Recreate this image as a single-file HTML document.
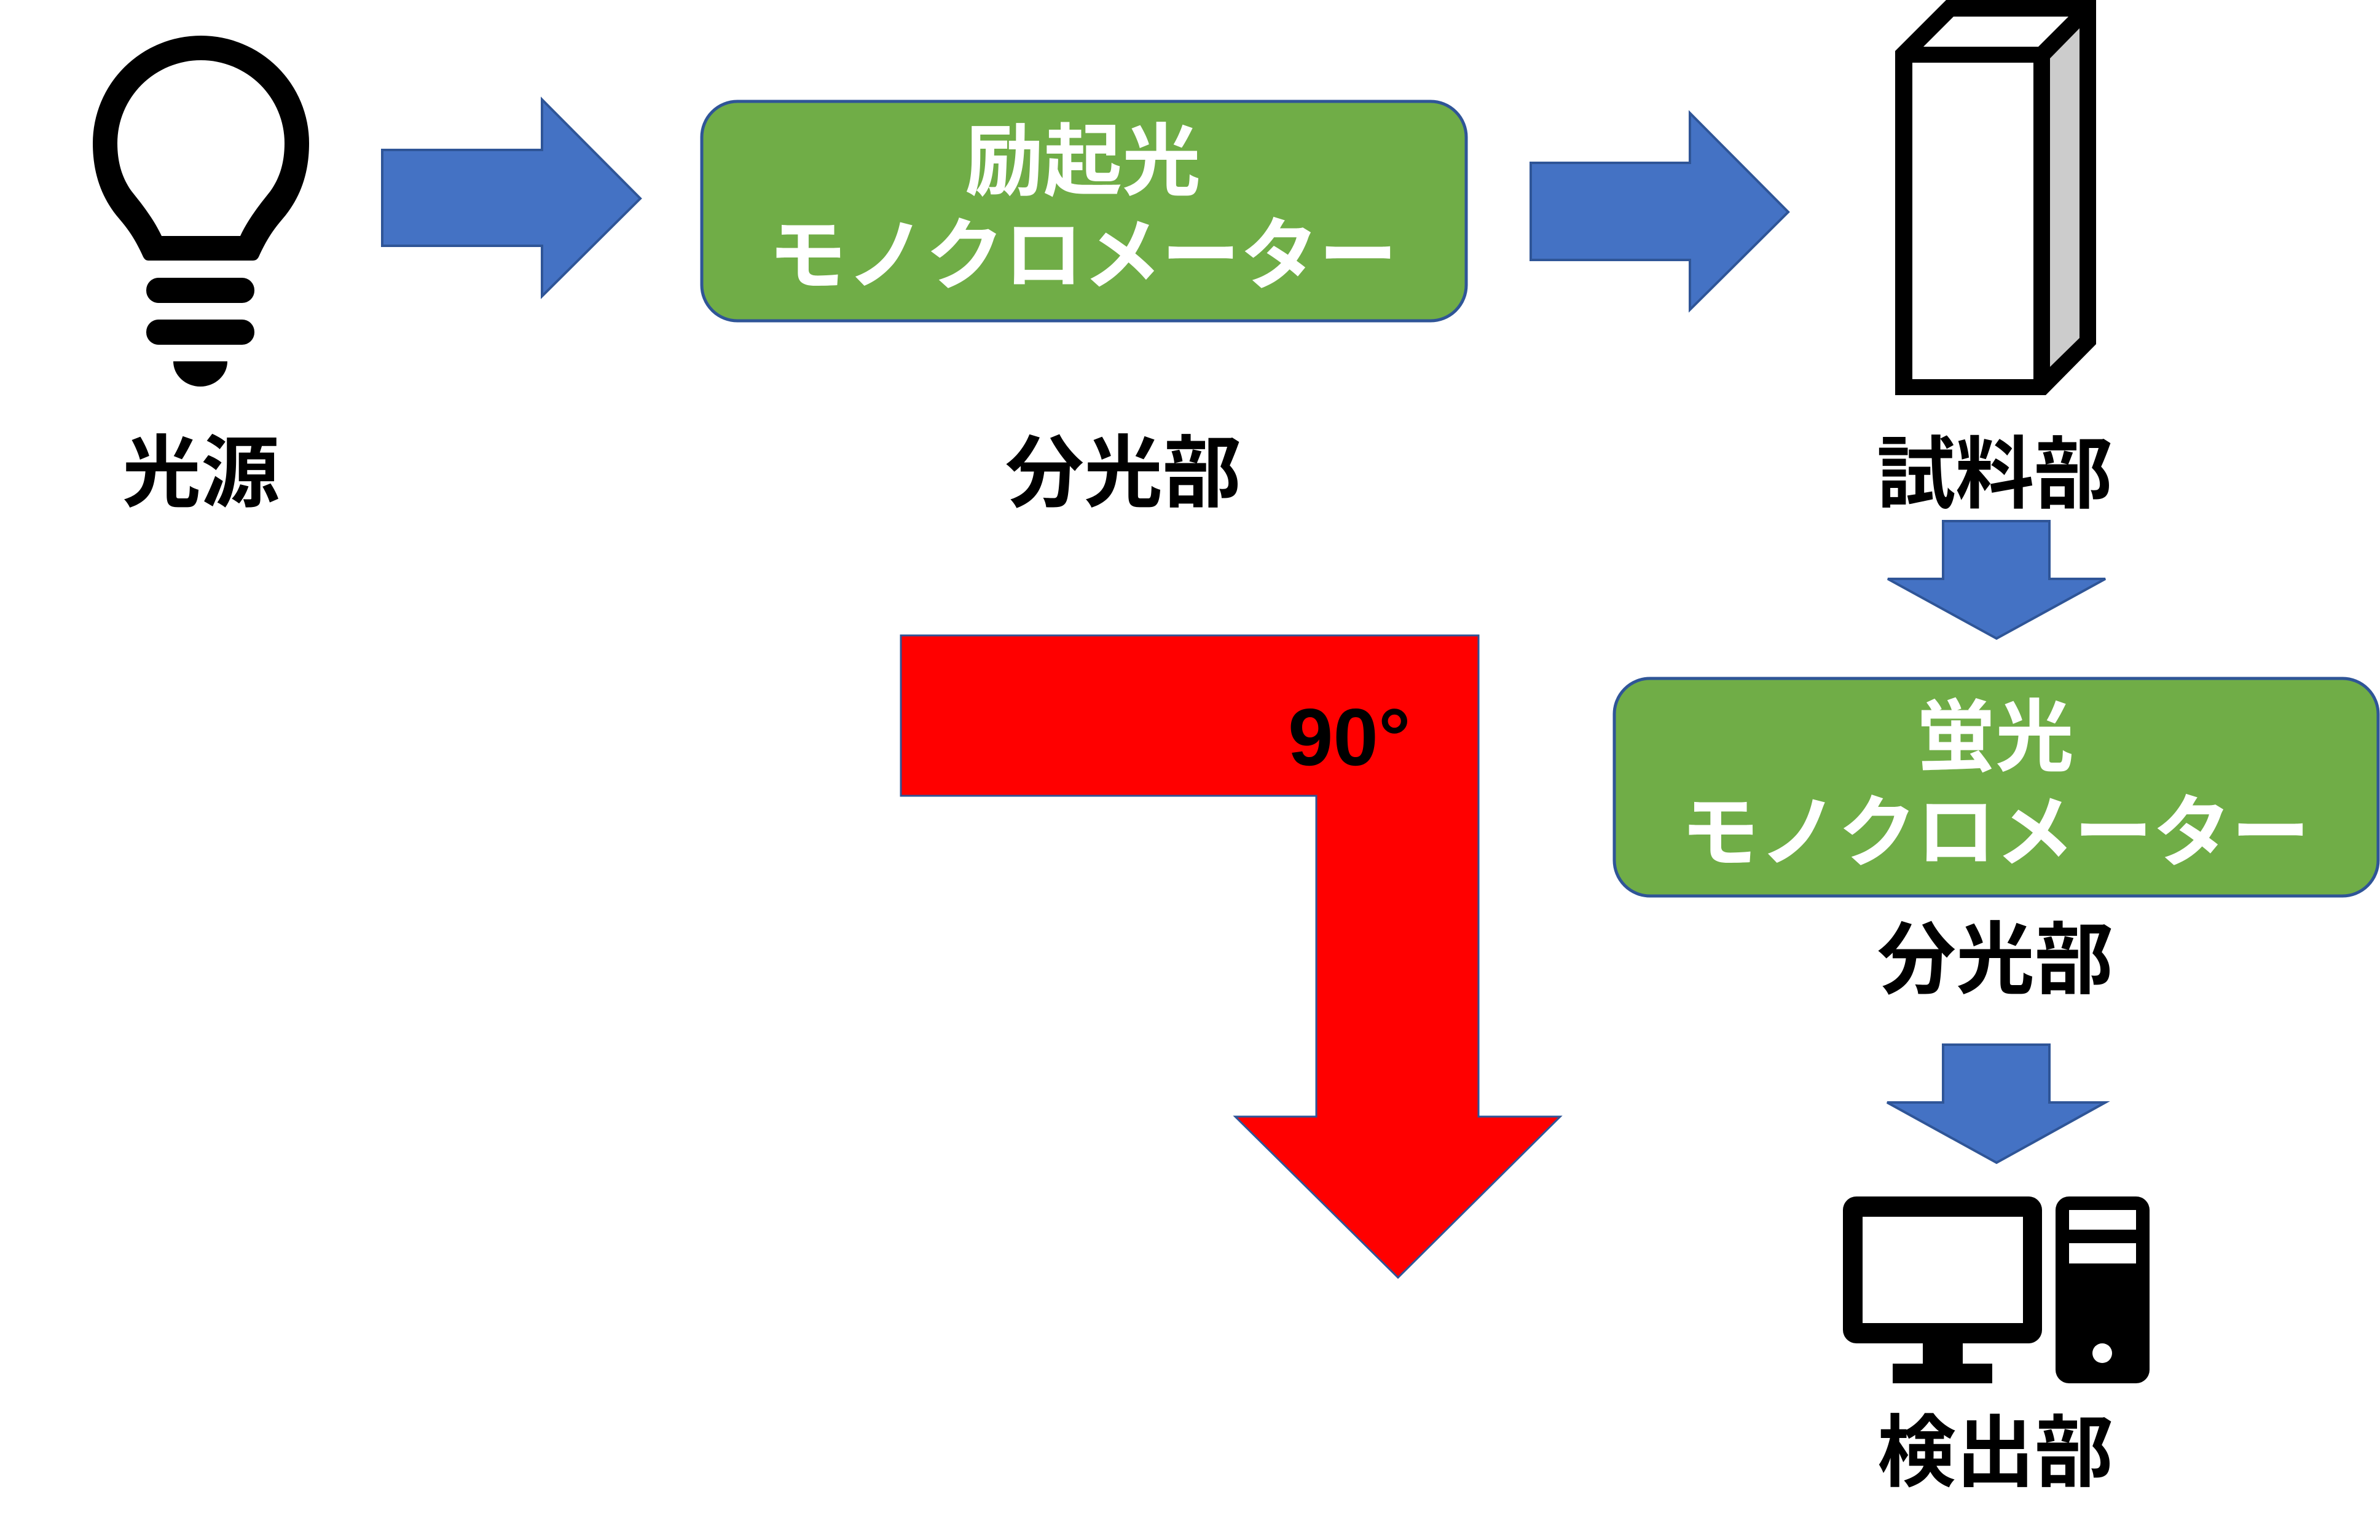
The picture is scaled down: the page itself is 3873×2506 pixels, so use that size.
<!DOCTYPE html>
<html>
<head>
<meta charset="utf-8">
<style>
  html, body { margin:0; padding:0; background:#fff; }
  body { width:3873px; height:2506px; overflow:hidden; }
  svg { display:block; }
  .t { font-family:"Liberation Sans","Noto Sans CJK JP",sans-serif; font-weight:700; font-size:128px; text-anchor:middle; }
</style>
</head>
<body>
<svg width="3873" height="2506" viewBox="0 0 3873 2506" xmlns="http://www.w3.org/2000/svg">
  <rect x="0" y="0" width="3873" height="2506" fill="#ffffff"/>

  <!-- Light bulb -->
  <path d="M241 424 L412 424 Q418 424 421 418 C430 398 440 380 455 362 L465 350 C490 318 503 280 503 233 A176 175 0 0 0 151 233 C151 280 164 318 189 350 L199 362 C214 380 224 398 233 418 Q236 424 241 424 Z" fill="#000"/>
  <path d="M263 384 L391 384 C400 365 410 350 425 330 L440 311 C455 290 463 265 463 233 A136 135 0 0 0 191 233 C191 265 199 290 214 311 L229 330 C244 350 254 365 263 384 Z" fill="#fff"/>
  <rect x="238" y="452" width="176" height="41" rx="20" fill="#000"/>
  <rect x="238" y="520" width="176" height="41" rx="20" fill="#000"/>
  <path d="M282 588 L370 588 A44 41 0 0 1 282 588 Z" fill="#000"/>
  <text class="t" x="327" y="814">光源</text>

  <!-- Arrow 1 -->
  <polygon points="622,244 882,244 882,162 1042,323 882,482 882,400 622,400" fill="#4472C4" stroke="#2F5597" stroke-width="4"/>

  <!-- Excitation monochromator -->
  <rect x="1142" y="165" width="1244" height="357" rx="58" ry="58" fill="#70AD47" stroke="#2F5597" stroke-width="5"/>
  <text class="t" x="1762" y="307" fill="#fff">励起光</text>
  <text class="t" x="1762" y="460" fill="#fff">モノクロメーター</text>
  <text class="t" x="1828" y="814">分光部</text>

  <!-- Arrow 2 -->
  <polygon points="2491,265 2750,265 2750,184 2910,345 2750,504 2750,423 2491,423" fill="#4472C4" stroke="#2F5597" stroke-width="4"/>

  <!-- Cuvette -->
  <polygon points="3084,83 3167,0 3411,0 3411,560 3329,643 3084,643" fill="#000"/>
  <rect x="3112" y="102" width="197" height="515" fill="#fff"/>
  <polygon points="3130,76 3179,27 3366,27 3317,76" fill="#fff"/>
  <polygon points="3336,95 3384,46 3384,550 3336,597" fill="#CCCCCC"/>
  <text class="t" x="3246" y="816">試料部</text>

  <!-- Down arrow 1 -->
  <polygon points="3162,848 3335,848 3335,942 3426,942 3249,1039 3072,942 3162,942" fill="#4472C4" stroke="#2F5597" stroke-width="4"/>

  <!-- Fluorescence monochromator -->
  <rect x="2627" y="1104" width="1243" height="354" rx="58" ry="58" fill="#70AD47" stroke="#2F5597" stroke-width="5"/>
  <text class="t" x="3247" y="1244" fill="#fff">蛍光</text>
  <text class="t" x="3247" y="1399" fill="#fff">モノクロメーター</text>
  <text class="t" x="3247" y="1606">分光部</text>

  <!-- Down arrow 2 -->
  <polygon points="3162,1700 3335,1700 3335,1794 3426,1794 3249,1892 3071,1794 3162,1794" fill="#4472C4" stroke="#2F5597" stroke-width="4"/>

  <!-- Computer -->
  <rect x="2999" y="1947" width="324" height="239" rx="22" fill="#000"/>
  <rect x="3031" y="1980" width="261" height="173" fill="#fff"/>
  <rect x="3129" y="2184" width="65" height="36" fill="#000"/>
  <rect x="3080" y="2219" width="162" height="32" fill="#000"/>
  <rect x="3345" y="1947" width="153" height="304" rx="22" fill="#000"/>
  <rect x="3367" y="1969" width="109" height="32" fill="#fff"/>
  <rect x="3367" y="2023" width="109" height="33" fill="#fff"/>
  <circle cx="3421" cy="2202" r="16" fill="#fff"/>
  <text class="t" x="3247" y="2408">検出部</text>

  <!-- Red bent arrow -->
  <polygon points="1466,1034 2406,1034 2406,1817 2539,1817 2275,2079 2010,1817 2142,1817 2142,1295 1466,1295" fill="#FF0000" stroke="#2F5597" stroke-width="3"/>
  <text x="2096" y="1245" font-family="Liberation Sans, sans-serif" font-weight="700" font-size="132" fill="#000">90°</text>
</svg>
</body>
</html>
